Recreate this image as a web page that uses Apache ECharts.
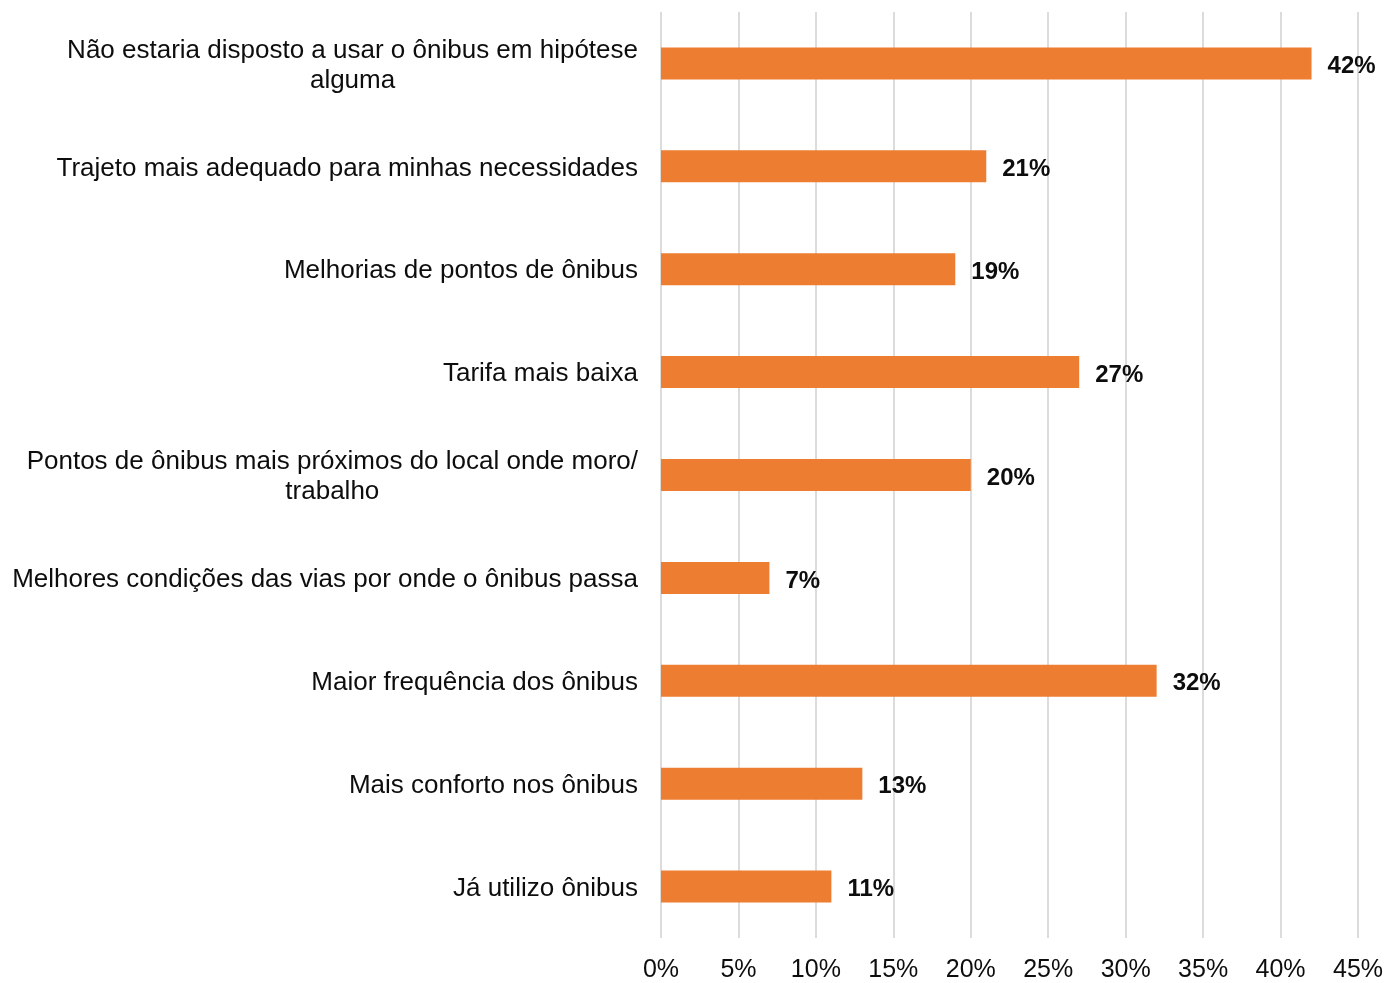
<!DOCTYPE html>
<html>
<head>
<meta charset="utf-8">
<script src="https://cdn.jsdelivr.net/npm/echarts@6/dist/echarts.min.js"></script>
<style>
  html, body { margin: 0; padding: 0; background: #fff; }
  #chart { width: 1388px; height: 983px; }
</style>
</head>
<body>
<div id="chart"></div>
<script>
// Survey answers, top to bottom
const categories = [
  'Não estaria disposto a usar o ônibus em hipótese\nalguma',
  'Trajeto mais adequado para minhas necessidades',
  'Melhorias de pontos de ônibus',
  'Tarifa mais baixa',
  'Pontos de ônibus mais próximos do local onde moro/\ntrabalho',
  'Melhores condições das vias por onde o ônibus passa',
  'Maior frequência dos ônibus',
  'Mais conforto nos ônibus',
  'Já utilizo ônibus'
];
// Share of respondents (%)
const values = [42, 21, 19, 27, 20, 7, 32, 13, 11];
// Value axis ticks (%)
const axisMin = 0;
const axisMax = 45;
const axisStep = 5;

const FONT = '"Liberation Sans", Arial, sans-serif';
const INK = '#0d0d0d';

const chart = echarts.init(document.getElementById('chart'), null, { renderer: 'canvas' });
chart.setOption({
  animation: false,
  backgroundColor: '#ffffff',
  grid: { left: 661, right: 30, top: 12, bottom: 43.5, containLabel: false },
  xAxis: {
    type: 'value',
    min: axisMin,
    max: axisMax,
    interval: axisStep,
    axisLine: { show: false },
    axisTick: { show: false },
    splitLine: { show: true, lineStyle: { color: '#d0d0d0', width: 1.5 } },
    axisLabel: {
      formatter: v => v + '%',
      fontFamily: FONT,
      fontSize: 25,
      color: INK,
      margin: 20
    }
  },
  yAxis: {
    type: 'category',
    data: categories,
    inverse: true,
    axisLine: { show: false },
    axisTick: { show: false },
    splitLine: { show: false },
    axisLabel: {
      margin: 23,
      fontFamily: FONT,
      fontSize: 26,
      color: INK,
      lineHeight: 30,
      padding: [4, 0, 0, 0],
      formatter: v => v.split('\n').map(s => '{c|' + s + '}').join('\n'),
      rich: {
        c: { align: 'center', fontFamily: FONT, fontSize: 26, color: INK, lineHeight: 30 }
      }
    }
  },
  series: [{
    type: 'bar',
    data: values,
    barWidth: 32,
    itemStyle: { color: '#ED7D31' },
    label: {
      show: true,
      position: 'right',
      distance: 16,
      offset: [0, 3],
      formatter: p => p.value + '%',
      fontFamily: FONT,
      fontSize: 24,
      fontWeight: 'bold',
      color: INK
    }
  }]
});
</script>
</body>
</html>
